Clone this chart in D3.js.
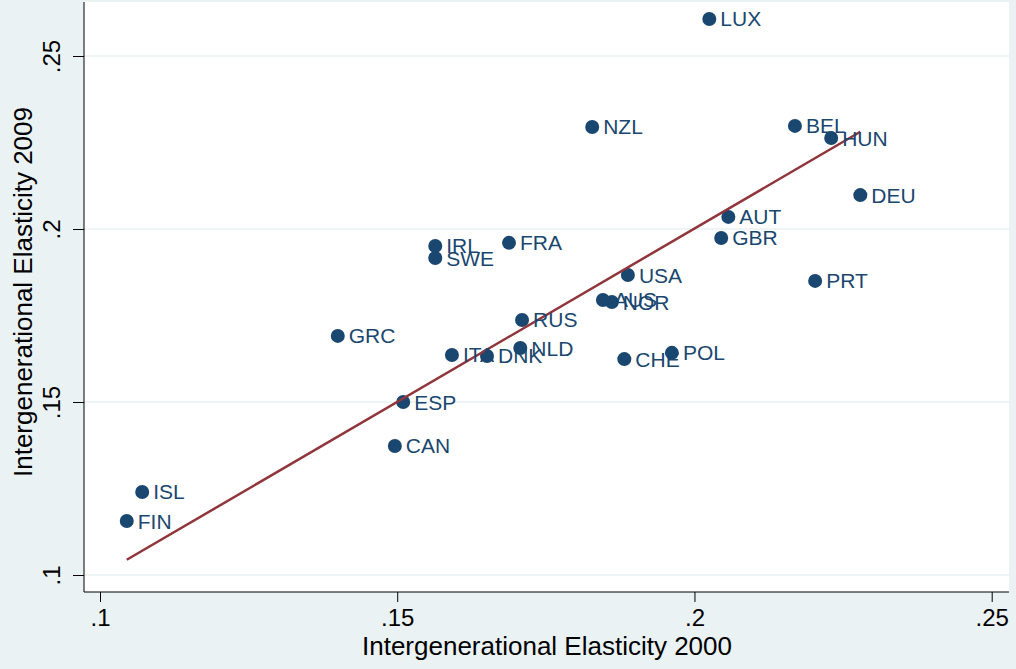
<!DOCTYPE html>
<html>
<head>
<meta charset="utf-8">
<script src="https://cdn.jsdelivr.net/npm/d3@7"></script>
<style>
  body { margin: 0; background: #EAF2F3; }
  svg { display: block; font-family: "Liberation Sans", Arial, sans-serif; }
</style>
</head>
<body>
<div id="chart"></div>
<script>
// country codes and their elasticities
var countries = ["LUX","NZL","BEL","HUN","DEU","AUT","GBR","IRL","SWE","FRA","USA","PRT",
  "AUS","NOR","RUS","GRC","NLD","ITA","DNK","CHE","POL","ESP","CAN","ISL","FIN"];
var elast2000 = [.2025,.1828,.2169,.2230,.2279,.2057,.2045,.1564,.1564,.1688,.1888,.2203,
  .1846,.1861,.1710,.1400,.1707,.1592,.1651,.1882,.1962,.1510,.1496,.1071,.1045];
var elast2009 = [.2607,.2295,.2298,.2263,.2098,.2035,.1974,.1951,.1916,.1960,.1867,.1850,
  .1795,.1789,.1737,.1691,.1656,.1636,.1633,.1624,.1642,.1500,.1373,.1240,.1156];
// linear fit at its two ends
var fitX = [.1045, .2279];
var fitY = [.1044, .2281];
var xTicks = [.1, .15, .2, .25];
var yTicks = [.1, .15, .2, .25];

var data = countries.map(function(c, i) {
  return { name: c, x: elast2000[i], y: elast2009[i] };
});

var W = 1016, H = 669;
var svg = d3.select("#chart").append("svg")
  .attr("width", W).attr("height", H);

var x = d3.scaleLinear().domain([.1, .25]).range([100, 991.7]);
var y = d3.scaleLinear().domain([.1, .25]).range([575, 56]);

var pLeft = 84, pRight = 1009, pTop = 2, pBottom = 592;

// plot region
svg.append("rect")
  .attr("x", pLeft).attr("y", pTop)
  .attr("width", pRight - pLeft).attr("height", pBottom - pTop)
  .attr("fill", "white");

// gridlines
svg.selectAll(".grid").data(yTicks).enter().append("line")
  .attr("x1", pLeft).attr("x2", pRight)
  .attr("y1", function(d) { return y(d); })
  .attr("y2", function(d) { return y(d); })
  .attr("stroke", "#EAF2F3").attr("stroke-width", 1.5);

// axes
var fmt = function(d) { return d3.format(".2~f")(d).replace(/^0/, ""); };

var xAxis = d3.axisBottom(x).tickValues(xTicks).tickFormat(fmt).tickSize(10).tickSizeOuter(0);
var gx = svg.append("g").attr("transform", "translate(0," + pBottom + ")").call(xAxis);
gx.select(".domain").attr("d", "M" + pLeft + ",0H" + pRight).attr("stroke", "#000");
gx.selectAll(".tick line").attr("stroke", "#000");
gx.selectAll(".tick text").attr("font-size", 24).attr("fill", "#000")
  .attr("font-family", "Liberation Sans, Arial, sans-serif")
  .attr("dy", null).attr("y", 34);

var yAxis = d3.axisLeft(y).tickValues(yTicks).tickFormat(fmt).tickSize(11).tickSizeOuter(0);
var gy = svg.append("g").attr("transform", "translate(" + pLeft + ",0)").call(yAxis);
gy.select(".domain").attr("d", "M0," + pTop + "V" + pBottom).attr("stroke", "#000");
gy.selectAll(".tick line").attr("stroke", "#000");
gy.selectAll(".tick text")
  .attr("font-size", 24).attr("fill", "#000")
  .attr("font-family", "Liberation Sans, Arial, sans-serif")
  .attr("x", null).attr("dy", null)
  .attr("text-anchor", "middle")
  .attr("transform", "translate(-24,0) rotate(-90)");

// points
svg.selectAll(".pt").data(data).enter().append("circle")
  .attr("cx", function(d) { return x(d.x); })
  .attr("cy", function(d) { return y(d.y); })
  .attr("r", 7)
  .attr("fill", "#1A476F");

svg.append("line")
  .attr("x1", x(fitX[0])).attr("y1", y(fitY[0]))
  .attr("x2", x(fitX[1])).attr("y2", y(fitY[1]))
  .attr("stroke", "#90353B").attr("stroke-width", 2.5);

svg.selectAll(".lbl").data(data).enter().append("text")
  .attr("x", function(d) { return x(d.x) + 11; })
  .attr("y", function(d) { return y(d.y) + 7.5; })
  .attr("font-size", 21)
  .attr("fill", "#1A476F")
  .text(function(d) { return d.name; });

// titles
svg.append("text")
  .attr("x", 547).attr("y", 655)
  .attr("text-anchor", "middle").attr("font-size", 26).attr("fill", "#000")
  .text("Intergenerational Elasticity 2000");

svg.append("text")
  .attr("transform", "translate(32,292) rotate(-90)")
  .attr("text-anchor", "middle").attr("font-size", 26).attr("fill", "#000")
  .text("Intergenerational Elasticity 2009");
</script>
</body>
</html>
